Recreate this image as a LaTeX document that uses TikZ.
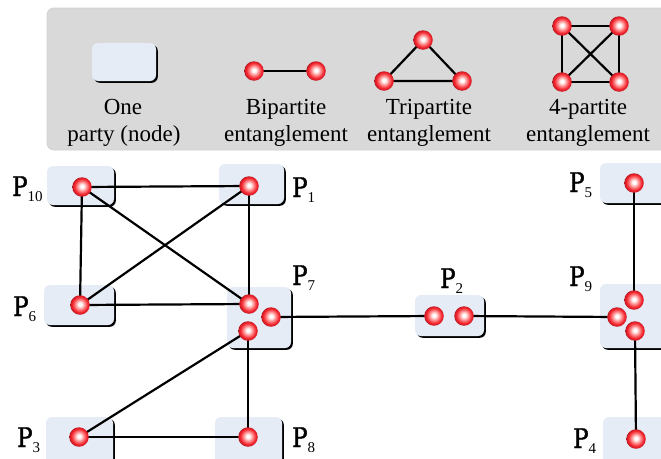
\documentclass[tikz,border=0pt]{standalone}
\usepackage{fontspec}
\setmainfont{Liberation Serif}
\newfontfamily\legfont{Liberation Serif}
\newfontfamily\pfont[FakeStretch=0.85,FakeBold=1.2]{DejaVu Serif}
\usetikzlibrary{shadows}
\pgfdeclarelayer{boxes}
\pgfdeclarelayer{links}
\pgfsetlayers{boxes,links,main}
\definecolor{boxfill}{HTML}{E6ECF6}
\definecolor{legfill}{HTML}{D9D9D9}
\definecolor{ballred}{HTML}{F2222C}
\pgfdeclareradialshading{redball}{\pgfpoint{0bp}{2bp}}{%
  color(0bp)=(white); color(4bp)=(white); color(12bp)=(red!45!white);
  color(20bp)=(ballred); color(24bp)=(ballred!88!black); color(25bp)=(ballred!70!black); color(50bp)=(ballred!70!black)}
\newcommand{\plab}[1]{{\fontsize{27}{27}\pfont P}\raisebox{-5pt}{\fontsize{15}{15}\legfont #1}}
\tikzset{
  partybox/.style={rectangle, rounded corners=6pt, fill=boxfill, inner sep=0pt,
    drop shadow={shadow xshift=1.8pt, shadow yshift=-1.8pt, fill=black, opacity=1}},
  qubit/.style={circle, minimum size=19.5pt, inner sep=0pt, shading=redball},
  link/.style={line width=2.2pt, black},
  legtext/.style={font=\fontsize{23}{27}\legfont, anchor=base, inner sep=0pt},
  plabel/.style={anchor=base west, inner sep=0pt}
}
\begin{document}
\begin{tikzpicture}[x=1pt,y=-1pt]
\useasboundingbox (0,0) rectangle (661,458);
\begin{pgfonlayer}{boxes}
% legend
\node[rectangle, rounded corners=7pt, fill=legfill, draw=black!18, line width=0.8pt,
  minimum width=650pt, minimum height=142pt, inner sep=0pt] (legend) at (372,79) {};
\node[partybox, minimum width=64pt, minimum height=38pt] (legbox) at (124,62) {};
% party boxes
\node[partybox, minimum width=67pt, minimum height=39pt] (B10) at (80.5,185.5) {};
\node[partybox, minimum width=65pt, minimum height=40pt] (B1) at (251.5,184) {};
\node[partybox, minimum width=70pt, minimum height=40pt] (B6) at (79,305) {};
\node[partybox, minimum width=64pt, minimum height=61pt] (B7) at (259,317.5) {};
\node[partybox, minimum width=69pt, minimum height=41pt] (B2) at (449.5,315.5) {};
\node[partybox, minimum width=72pt, minimum height=40pt] (B5) at (636,183) {};
\node[partybox, minimum width=72pt, minimum height=64pt] (B9) at (636,316) {};
\node[partybox, minimum width=67pt, minimum height=54pt] (B3) at (79.5,444) {};
\node[partybox, minimum width=67pt, minimum height=54pt] (B8) at (248.5,444) {};
\node[partybox, minimum width=70pt, minimum height=54pt] (B4) at (638,444) {};
\end{pgfonlayer}
\node[legtext] (t1a) at (123,114) {One};
\node[legtext] (t1b) at (124,141) {party (node)};
\node[qubit] (b1) at (254,71) {};
\node[qubit] (b2) at (316,71) {};
\node[legtext] (t2a) at (286,114) {Bipartite};
\node[legtext] (t2b) at (286,141) {entanglement};
\node[qubit] (c1) at (423,40) {};
\node[qubit] (c2) at (384,81) {};
\node[qubit] (c3) at (462,81) {};
\node[legtext] (t3a) at (429,114) {Tripartite};
\node[legtext] (t3b) at (429,141) {entanglement};
\node[qubit] (d1) at (562,26) {};
\node[qubit] (d2) at (619,26) {};
\node[qubit] (d3) at (562,82) {};
\node[qubit] (d4) at (619,82) {};
\node[legtext] (t4a) at (588,114) {4-partite};
\node[legtext] (t4b) at (588,141) {entanglement};
% qubits
\node[qubit] (q10) at (82,187) {};
\node[qubit] (q1) at (249,186) {};
\node[qubit] (q6) at (80,305) {};
\node[qubit] (q7a) at (249,304) {};
\node[qubit] (q7b) at (271,317) {};
\node[qubit] (q7c) at (248,331) {};
\node[qubit] (q2a) at (434,316) {};
\node[qubit] (q2b) at (464,316) {};
\node[qubit] (q5) at (634,183) {};
\node[qubit] (q9a) at (634,300) {};
\node[qubit] (q9b) at (617,317) {};
\node[qubit] (q9c) at (635,331) {};
\node[qubit] (q3) at (79,437) {};
\node[qubit] (q8) at (248,437) {};
\node[qubit] (q4) at (636,439) {};
% links
\begin{pgfonlayer}{links}
\draw[link] (b1.center) -- (b2.center);
\draw[link] (c1.center) -- (c2.center) -- (c3.center) -- cycle;
\draw[link] (d1.center) -- (d2.center) -- (d4.center) -- (d3.center) -- cycle;
\draw[link] (d1.center) -- (d4.center);
\draw[link] (d2.center) -- (d3.center);
\draw[link] (q10.center) -- (q1.center);
\draw[link] (q10.center) -- (q6.center);
\draw[link] (q10.center) -- (q7a.center);
\draw[link] (q1.center) -- (q6.center);
\draw[link] (q1.center) -- (q7a.center);
\draw[link] (q6.center) -- (q7a.center);
\draw[link] (q7b.center) -- (q2a.center);
\draw[link] (q2b.center) -- (q9b.center);
\draw[link] (q5.center) -- (q9a.center);
\draw[link] (q9c.center) -- (q4.center);
\draw[link] (q7c.center) -- (q3.center);
\draw[link] (q7c.center) -- (q8.center);
\draw[link] (q3.center) -- (q8.center);
\end{pgfonlayer}
% labels
\node[plabel] (l10) at (12,196) {\plab{10}};
\node[plabel] (l1) at (292,197) {\plab{1}};
\node[plabel] (l6) at (13,316) {\plab{6}};
\node[plabel] (l7) at (292,285) {\plab{7}};
\node[plabel] (l2) at (440,288) {\plab{2}};
\node[plabel] (l5) at (569,192) {\plab{5}};
\node[plabel] (l9) at (569,286) {\plab{9}};
\node[plabel] (l3) at (17,447) {\plab{3}};
\node[plabel] (l8) at (292,447) {\plab{8}};
\node[plabel] (l4) at (573,448) {\plab{4}};
\end{tikzpicture}
\end{document}
